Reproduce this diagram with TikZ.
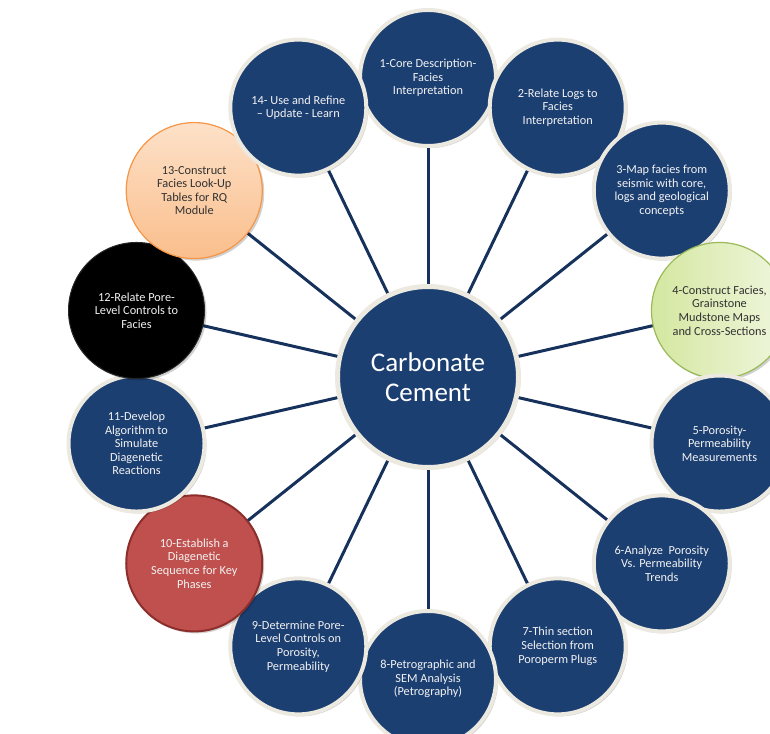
\documentclass[tikz,border=0pt]{standalone}
\usepackage{fontspec}
\setmainfont{Carlito}
\usetikzlibrary{calc,backgrounds,shadows}
\definecolor{nodeblue}{RGB}{28,63,114}
\definecolor{rimgrey}{RGB}{236,234,224}
\definecolor{linkblue}{RGB}{22,50,92}
\definecolor{txtlight}{RGB}{242,242,242}
\definecolor{txtdark}{RGB}{50,50,50}
\definecolor{greenrim}{RGB}{155,187,89}
\definecolor{greenA}{RGB}{212,231,160}
\definecolor{greenB}{RGB}{240,246,222}
\definecolor{orangerim}{RGB}{247,150,70}
\definecolor{orangeA}{RGB}{250,190,140}
\definecolor{orangeB}{RGB}{253,225,200}
\definecolor{redfill}{RGB}{192,80,77}
\definecolor{redrim}{RGB}{140,46,44}
\tikzset{
  sat/.style={circle, minimum size=136pt, inner sep=0pt, align=center,
    fill=nodeblue, draw=rimgrey, line width=4pt, text=txtlight,
    font=\fontsize{12.3}{13.6}\selectfont,
    drop shadow={shadow xshift=2pt, shadow yshift=-2pt, opacity=0.18, fill=black}},
  hubnode/.style={circle, minimum size=181pt, inner sep=0pt, align=center,
    fill=nodeblue, draw=rimgrey, line width=5pt, text=white,
    font=\fontsize{27}{30}\selectfont,
    drop shadow={shadow xshift=2pt, shadow yshift=-2pt, opacity=0.18, fill=black}},
  greensat/.style={sat, draw=greenrim, line width=1.2pt, text=txtdark,
    left color=greenA, right color=greenB},
  orangesat/.style={sat, draw=orangerim, line width=1.2pt, text=txtdark,
    bottom color=orangeA, top color=orangeB},
  blacksat/.style={sat, fill=black, draw=black!85, line width=1pt, text=txtlight},
  redsat/.style={sat, fill=redfill, draw=redrim, line width=2pt, text=txtlight},
  link/.style={draw=linkblue, line width=3pt}
}
\begin{document}
\begin{tikzpicture}[x=1pt,y=1pt]
\useasboundingbox (0,0) rectangle (770,733);
\clip (0,0) rectangle (770,733);
\coordinate (C) at (428,356);
\node[hubnode] (hub) at (C) {Carbonate\\Cement};
\node[sat] (s1) at ($(C)+({90-0*360/14}:299pt)$) {1-Core Description-\\Facies\\Interpretation};
\node[sat] (s2) at ($(C)+({90-1*360/14}:299pt)$) {2-Relate Logs to\\Facies\\Interpretation};
\node[sat] (s3) at ($(C)+({90-2*360/14}:299pt)$) {3-Map facies from\\seismic with core,\\logs and geological\\concepts};
\node[greensat] (s4) at ($(C)+({90-3*360/14}:299pt)$) {4-Construct Facies,\\Grainstone\\Mudstone Maps\\and Cross-Sections};
\node[sat] (s5) at ($(C)+({90-4*360/14}:299pt)$) {5-Porosity-\\Permeability\\Measurements};
\node[sat] (s6) at ($(C)+({90-5*360/14}:299pt)$) {6-Analyze\ \ Porosity\\Vs. Permeability\\Trends};
\node[sat] (s7) at ($(C)+({90-6*360/14}:299pt)$) {7-Thin section\\Selection from\\Poroperm Plugs};
\node[sat] (s8) at ($(C)+({90-7*360/14}:302pt)$) {8-Petrographic and\\SEM Analysis\\(Petrography)};
\node[sat] (s9) at ($(C)+({90-8*360/14}:299pt)$) {9-Determine Pore-\\Level Controls on\\Porosity,\\Permeability};
\node[redsat] (s10) at ($(C)+({90-9*360/14}:299pt)$) {10-Establish a\\Diagenetic\\Sequence for Key\\Phases};
\node[sat] (s11) at ($(C)+({90-10*360/14}:299pt)$) {11-Develop\\Algorithm to\\Simulate\\Diagenetic\\Reactions};
\node[blacksat] (s12) at ($(C)+({90-11*360/14}:299pt)$) {12-Relate Pore-\\Level Controls to\\Facies};
\node[orangesat] (s13) at ($(C)+({90-12*360/14}:299pt)$) {13-Construct\\Facies Look-Up\\Tables for RQ\\Module};
\node[sat] (s14) at ($(C)+({90-13*360/14}:299pt)$) {14- Use and Refine\\– Update - Learn};
\begin{scope}[on background layer]
\foreach \i in {1,...,14} { \draw[link] (hub.center) -- (s\i.center); }
\end{scope}
\end{tikzpicture}
\end{document}
